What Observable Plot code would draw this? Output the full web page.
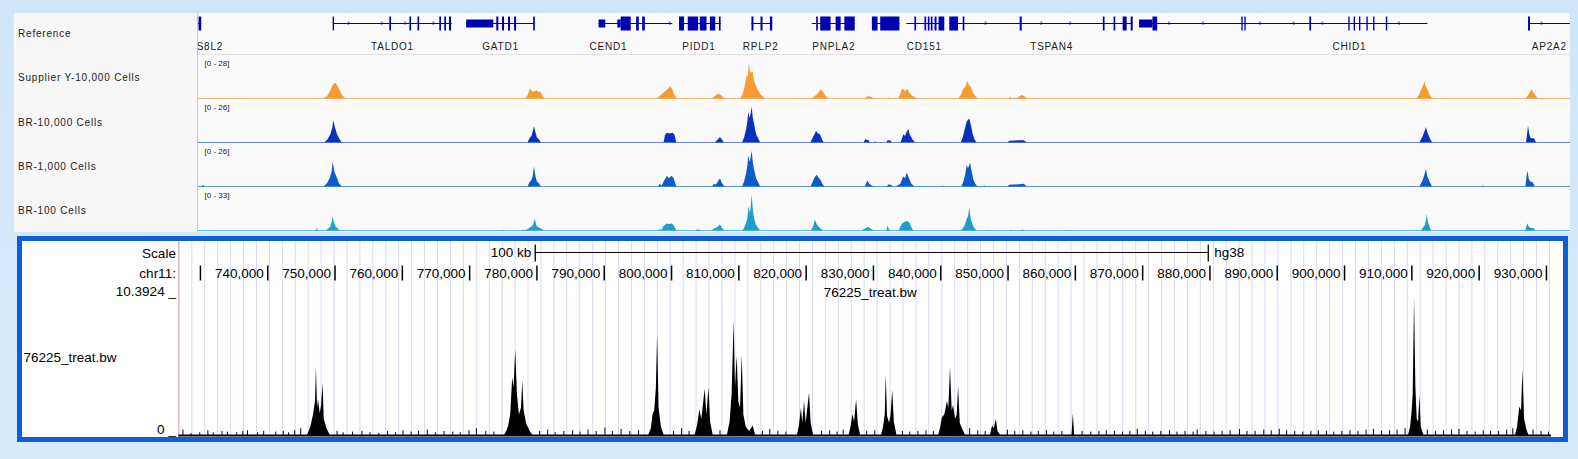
<!DOCTYPE html>
<html><head><meta charset="utf-8">
<script src="https://cdn.jsdelivr.net/npm/d3@7"></script>
<script src="https://cdn.jsdelivr.net/npm/@observablehq/plot@0.6"></script>
<style>
html,body{margin:0;padding:0;}
body{width:1578px;height:459px;overflow:hidden;background:#d0e6fa;font-family:"Liberation Sans",Arial,sans-serif;}
#root{position:relative;width:1578px;height:459px;background:linear-gradient(#cfe5fa,#d8ebfc);}
.box{position:absolute;}
.lab{position:absolute;left:4px;font-size:10px;letter-spacing:0.8px;color:#1a1a1a;white-space:nowrap;transform:translateY(-50%);}
</style></head>
<body><div id="root"></div>
<script>
// ---------------- data ----------------
const chrom = "chr11";
const assembly = "hg38";
const topDomain = [727.27, 931.86];   // kb shown in the IGV panel
const botDomain = [726.8, 930.75];    // kb shown in the UCSC panel

const trackNames = ["Supplier Y-10,000 Cells", "BR-10,000 Cells", "BR-1,000 Cells", "BR-100 Cells"];
const trackMax = [28, 26, 26, 33];
const trackColors = ["#f79c35", "#0a30be", "#0b5cc8", "#1d9fcc"];
const trackBaseColors = ["#f7a043", "#3562d4", "#2a6fd2", "#2aa8d6"];

const supplierY10k = [[745.9,0],[746.5,1.5],[747.0,5],[747.3,8.5],[747.7,10.2],[748.0,9],[748.4,5],[748.9,1.5],[749.3,0],
 [776.0,0],[776.4,2],[776.7,5.5],[776.85,6.5],[777.1,4.5],[777.5,4.8],[777.8,5.4],[778.1,4],[778.3,4.8],[778.6,2],[779.0,0],
 [795.6,0],[796.0,1.2],[796.5,3.3],[797.0,5],[797.5,7],[797.7,8.0],[798.0,6],[798.3,2.5],[798.7,0],
 [803.8,0],[804.3,1.5],[804.85,3.3],[805.3,2],[805.8,0],
 [808.1,0],[808.4,2],[808.7,6],[808.95,12],[809.1,15.2],[809.25,14],[809.4,23.2],[809.55,18],[809.7,17],[809.98,17.4],[810.2,11],[810.5,8],[810.8,5],[811.2,2.5],[811.6,1],[811.9,0],
 [818.7,0],[819.2,1.5],[819.6,3],[819.9,4.5],[820.17,5.9],[820.5,4],[820.9,1.5],[821.3,0],
 [826.6,0],[827.0,1.2],[827.33,1.5],[827.7,1.0],[828.1,0],
 [830.0,0],[830.2,0.8],[830.4,0],
 [831.6,0],[831.9,2],[832.15,5],[832.35,6.5],[832.7,4.8],[833.03,6.5],[833.3,4],[833.7,2],[834.2,0.8],[834.5,0],
 [840.6,0],[840.9,1.5],[841.2,4],[841.4,6.5],[841.7,8],[842.04,11.5],[842.2,9],[842.5,7.6],[842.8,4],[843.2,1.5],[843.6,0],
 [848.1,0],[848.35,1.1],[848.6,0.3],[849.4,0.5],[849.8,1.5],[850.1,2.2],[850.5,1.5],[850.9,0],
 [908.9,0],[909.3,2],[909.7,6],[910.0,9],[910.13,11.2],[910.35,8],[910.7,5],[911.0,2],[911.4,0],
 [925.2,0],[925.6,2],[925.9,4.5],[926.1,6],[926.4,4],[926.8,1.5],[927.1,0]];

const br10k = [[746.1,0],[746.6,2],[747.0,5],[747.3,9],[747.44,13.5],[747.7,9],[748.0,5],[748.4,2],[748.7,0],
 [776.4,0],[776.7,2.5],[777.0,4],[777.2,7],[777.37,9.9],[777.6,6],[777.8,3],[778.1,2],[778.4,0],
 [796.7,0],[796.9,4.5],[797.2,5.9],[797.6,5.5],[798.0,5.9],[798.3,5],[798.6,0],
 [804.3,0],[804.7,1.5],[805.1,3.4],[805.4,1.8],[805.7,0],
 [808.4,0],[808.7,3],[809.0,8],[809.2,13],[809.33,18.6],[809.5,15],[809.65,17],[809.83,21.6],[810.0,15],[810.2,11],[810.5,5],[810.8,2.5],[811.1,0],
 [818.6,0],[818.9,2.5],[819.2,5],[819.42,7.1],[819.7,5.5],[820.0,5.1],[820.3,2],[820.6,0],
 [826.5,0],[826.8,2],[827.2,1.5],[827.5,0],[828.1,0],[828.25,0.8],[828.4,0],
 [829.9,0],[830.1,1.4],[830.5,1.2],[830.8,0],
 [832.0,0],[832.3,3],[832.45,5],[832.7,4],[832.9,6],[833.18,8.1],[833.4,5],[833.8,2],[834.2,0],
 [841.0,0],[841.3,3],[841.6,8],[841.9,12.7],[842.28,14.5],[842.5,11],[842.8,5],[843.1,1.5],[843.4,0],
 [848.0,0],[848.2,1],[849.0,1.2],[849.6,1.4],[850.4,1.4],[850.9,0],
 [909.4,0],[909.8,3],[910.1,6],[910.38,9.3],[910.6,6],[910.9,3],[911.3,0],
 [925.3,0],[925.45,5],[925.6,10.2],[925.8,5],[926.0,2.5],[926.5,2.5],[926.8,0]];

const br1k = [[727.8,0],[728.0,1.0],[728.2,0],
 [746.0,0],[746.5,2],[746.9,5],[747.2,9],[747.35,15.1],[747.6,9],[747.9,6],[748.3,2],[748.7,0],
 [776.4,0],[776.7,2.5],[777.0,4],[777.2,7],[777.37,12.1],[777.6,6],[777.8,3],[778.1,2],[778.4,0],
 [795.9,0],[796.1,1.6],[796.4,0.5],[796.7,3],[797.0,5],[797.16,6.5],[797.5,5],[797.9,6.5],[798.2,5],[798.6,0],
 [803.9,0],[804.2,1.5],[804.5,1.2],[804.8,3],[805.1,5.0],[805.4,2],[805.8,0],
 [808.4,0],[808.7,3],[809.0,8],[809.2,13],[809.33,19],[809.5,15],[809.65,17],[809.83,21.6],[810.0,15],[810.2,10],[810.5,5],[810.8,2.5],[811.1,0],
 [818.6,0],[818.9,2.5],[819.2,5.5],[819.52,7.1],[819.8,5.5],[820.1,4],[820.4,1.5],[820.7,0],
 [826.7,0],[826.9,2],[827.08,3.6],[827.4,1.5],[827.8,0.5],[828.1,0],
 [830.0,0],[830.2,1.2],[830.6,1.0],[830.9,0],
 [831.3,0],[831.6,0.8],[832.0,1.5],[832.2,4],[832.45,6.1],[832.7,5],[832.95,8.5],[833.2,6],[833.6,2],[834.1,0],
 [838.2,0],[838.3,0.8],[838.4,0],
 [841.1,0],[841.4,3],[841.7,8],[841.9,13],[842.1,11],[842.39,14.5],[842.6,10],[842.9,4],[843.2,1.5],[843.5,0],
 [844.5,0],[844.6,0.8],[844.7,0],
 [848.0,0],[848.2,1],[849.0,1.2],[849.6,1.4],[850.4,1.6],[850.9,0],
 [909.4,0],[909.8,3],[910.1,6.5],[910.38,10.4],[910.6,6],[910.9,3],[911.3,0],
 [918.8,0],[918.9,0.9],[919.0,0],
 [925.2,0],[925.35,5],[925.5,9.7],[925.7,5],[925.9,3],[926.3,2.5],[926.6,0]];

const br100 = [[744.8,0],[744.97,2.0],[745.15,0],
 [746.3,0],[746.7,1.5],[747.0,3],[747.2,6],[747.35,11],[747.55,6],[747.8,3],[748.2,1],[748.5,0],
 [772.7,0],[772.8,0.8],[772.9,0],
 [775.6,0],[775.8,0.7],[776.0,0.3],[776.4,1],[776.8,2.5],[777.2,4],[777.5,9.0],[777.7,4],[778.0,2.5],[778.4,1.5],[778.9,0],
 [795.9,0],[796.1,1],[796.4,0.5],[796.7,3.5],[797.16,5.4],[797.5,5],[797.9,5.4],[798.2,4],[798.6,0],
 [801.4,0],[801.6,0.8],[802.0,0.8],[802.2,0],
 [803.9,0],[804.2,1.5],[804.5,2],[804.8,3],[805.1,4.6],[805.4,2],[805.8,0],
 [808.4,0],[808.7,2],[809.0,6],[809.2,10],[809.33,18.7],[809.5,14],[809.65,16],[809.83,27.6],[810.0,16],[810.2,9],[810.5,4],[810.8,2],[811.1,0],
 [818.6,0],[818.9,2],[819.1,5],[819.27,8.4],[819.5,5],[819.8,3],[820.1,1.5],[820.5,0],
 [826.2,0],[826.5,1],[826.9,2],[827.18,2.8],[827.5,1.5],[827.9,0.5],[828.2,0],
 [829.9,0],[830.1,3.8],[830.3,1],[830.5,0],
 [831.8,0],[832.0,3],[832.3,5.5],[832.6,6.5],[832.95,7.2],[833.3,6.5],[833.6,3],[833.9,0],
 [841.0,0],[841.3,1.5],[841.6,4],[841.9,9],[842.1,11],[842.28,17.4],[842.5,9],[842.8,4],[843.1,1.5],[843.4,0],
 [845.0,0],[845.1,0.8],[845.2,0],
 [848.3,0],[848.5,0.8],[848.7,0],[849.9,0],[850.2,1],[850.5,0],
 [857.2,0],[857.3,0.8],[857.4,0],
 [909.6,0],[909.9,2],[910.2,4],[910.4,8],[910.5,12.6],[910.65,7],[910.9,3],[911.2,0],
 [925.2,0],[925.35,3],[925.5,5.5],[925.7,3],[926.0,2],[926.4,2],[926.7,0]];

const trackData = [supplierY10k, br10k, br1k, br100];

// genes: [name, start kb, end kb, strand, label centre kb]
const geneSpans = [
 ["EPS8L2", 715.0, 727.75, 1, 727.86],
 ["TALDO1", 747.44, 765.1, 1, 756.2],
 ["GATD1", 767.26, 777.44, -1, 772.3],
 ["CEND1", 787.0, 798.0, -1, 788.4],
 ["PIDD1", 799.0, 805.2, -1, 801.9],
 ["RPLP2", 809.8, 812.9, 1, 811.1],
 ["PNPLA2", 818.8, 825.2, 1, 822.0],
 ["", 827.76, 831.86, -1, null],
 ["CD151", 832.9, 838.55, 1, 835.5],
 ["TSPAN4", 839.3, 866.6, 1, 854.5],
 ["CHID1", 867.6, 910.6, -1, 898.9],
 ["AP2A2", 925.7, 945.0, 1, 928.7]];
// exons: [start kb, end kb, coding(1) / utr(0)]
const exons = [
 [727.35,727.75,1],
 [747.35,747.55,1],[755.8,756.05,1],[758.8,759.05,1],[760.0,760.25,1],[763.25,763.5,1],[764.0,764.25,1],[764.7,765.0,1],
 [767.26,771.3,0],[771.75,772.05,1],[772.6,772.9,1],[773.5,773.8,1],[774.4,774.7,1],[777.25,777.5,1],
 [787.0,788.0,0],[789.8,790.3,0],[790.3,791.8,1],[792.6,793.0,1],[793.5,793.9,1],
 [799.0,799.75,1],[800.3,801.85,1],[802.1,803.1,1],[803.6,804.4,1],[804.95,805.2,1],
 [809.8,810.1,1],[811.15,811.45,1],[812.55,812.9,1],
 [819.45,819.7,1],[820.05,821.6,1],[822.35,823.1,1],[823.65,825.2,1],
 [827.76,828.6,1],[829.0,831.86,1],
 [834.1,834.35,1],[835.6,835.85,1],[836.1,836.35,1],[836.55,836.8,1],[837.1,837.4,1],[837.7,838.55,1],
 [839.3,840.6,1],[841.3,841.55,1],[849.8,850.1,1],[862.2,862.45,1],[863.8,864.05,1],[865.15,865.75,1],[866.35,866.65,1],
 [867.6,869.6,0],[869.6,870.3,1],[882.85,883.05,1],[883.3,883.5,1],[893.0,893.25,1],[898.8,899.0,1],[899.6,899.8,1],[900.4,900.6,1],[901.5,901.7,1],[902.5,902.7,1],[904.4,904.6,1],
 [925.6,925.9,1]];
const geneArrows = [[749.7,1],[754.66,1],[758.13,1],[762.35,1],[797.6,-1],[844.7,1],[853.0,1],[857.3,1],
 [872.0,-1],[877.1,-1],[885.6,-1],[890.6,-1],[894.9,-1],[906.3,-1],[927.6,1]];

// UCSC bigWig 76225_treat.bw
const bwName = "76225_treat.bw";
const bwMax = 10.3924;
const bwPeaks = [[745.9,0],[746.4,0.6],[746.8,1.5],[747.1,2.5],[747.24,5.0],[747.4,2.0],[747.54,2.65],[747.8,1.6],[748.0,2.2],[748.22,3.8],[748.4,1.2],[748.8,0.5],[749.3,0],
 [775.2,0],[775.6,0.4],[775.8,0.7],[776.1,1.5],[776.4,4.25],[776.6,3.5],[776.85,6.3],[777.1,3],[777.4,1.5],[777.7,2.0],[777.9,4.0],[778.1,1.8],[778.5,0.8],[779.0,0.3],[779.4,0],
 [796.6,0],[797.0,0.5],[797.25,1.55],[797.5,1.8],[797.75,3.5],[797.93,7.4],[798.15,2.0],[798.5,0.6],[798.9,0],
 [803.5,0],[803.9,0.8],[804.2,1.9],[804.5,1.2],[805.0,3.4],[805.25,1.5],[805.56,3.5],[805.8,1.0],[806.2,0],
 [808.3,0],[808.7,1.0],[809.0,3.0],[809.3,8.4],[809.5,3.5],[809.75,5.85],[810.0,2.5],[810.25,2.0],[810.5,5.9],[810.75,1.5],[811.1,0.6],[811.6,0.3],[812.14,0.7],[812.5,0],
 [818.7,0],[819.0,0.7],[819.3,2.0],[819.5,0.9],[819.76,2.5],[820.0,0.9],[820.5,3.1],[820.75,0.9],[821.1,0],
 [826.4,0],[826.7,0.7],[826.94,1.55],[827.2,1.0],[827.5,2.65],[827.75,0.8],[828.1,0],
 [831.2,0],[831.5,0.6],[831.75,1.5],[831.9,4.4],[832.1,1.4],[832.4,0.9],[832.6,1.4],[832.87,3.3],[833.1,1.0],[833.5,0],
 [839.7,0],[840.0,0.6],[840.25,1.3],[840.6,1.5],[841.0,2.5],[841.2,2.0],[841.45,5.0],[841.7,1.8],[841.9,2.2],[842.2,1.2],[842.45,1.5],[842.65,3.6],[842.9,0.9],[843.3,0.4],[843.7,0],
 [847.4,0],[847.7,0.7],[847.95,0.5],[848.26,1.2],[848.5,0.3],[848.9,0],
 [859.5,0],[859.7,1.6],[859.9,0],
 [909.5,0],[909.8,0.6],[910.0,1.5],[910.2,3.0],[910.4,10.1],[910.6,3.5],[910.8,1.2],[911.0,1.0],[911.2,2.9],[911.4,0.6],[911.8,0],
 [925.4,0],[925.7,0.6],[926.05,2.1],[926.3,1.8],[926.5,4.85],[926.75,1.2],[927.1,0.4],[927.4,0]];
const bwNoise = [[727.4,0.4],[728.6,0.15],[729.9,0.2],[731.1,0.35],[731.9,0.2],[733.2,0.3],[734.0,0.25],[735.4,0.2],[736.3,0.3],[737.0,0.35],[738.5,0.2],[739.4,0.3],
 [741.2,0.25],[742.3,0.3],[743.1,0.2],[744.0,0.35],[744.9,0.5],[750.3,0.3],[751.2,0.2],[752.6,0.25],[754.0,0.3],[755.2,0.2],[756.5,0.15],[757.8,0.3],[759.0,0.2],
 [760.1,0.35],[761.3,0.25],[762.4,0.3],[763.7,0.4],[764.9,0.2],[766.2,0.3],[767.5,0.25],[768.6,0.2],[769.9,0.35],[771.0,0.5],[772.4,0.3],[773.6,0.25],
 [780.4,0.3],[781.6,0.4],[782.7,0.2],[784.0,0.3],[785.3,0.35],[786.4,0.25],[787.6,0.4],[788.8,0.3],[790.1,0.55],[791.2,0.3],[792.5,0.45],[793.8,0.3],[795.1,0.35],
 [800.3,0.3],[801.5,0.5],[802.6,0.3],[807.2,0.35],[813.5,0.3],[814.6,0.45],[815.8,0.3],[817.0,0.25],[822.3,0.3],[823.5,0.35],[824.6,0.25],[825.5,0.4],
 [829.0,0.3],[830.2,0.35],[834.3,0.3],[835.4,0.25],[836.6,0.3],[837.8,0.35],[838.9,0.3],[844.3,0.5],[845.5,0.35],[846.6,0.3],[849.9,0.4],[851.0,0.3],
 [852.2,0.35],[853.4,0.25],[854.5,0.3],[855.7,0.35],[856.8,0.25],[858.0,0.3],[861.0,0.3],[862.3,0.25],[863.5,0.3],[864.6,0.35],[865.8,0.3],[867.0,0.25],
 [868.1,0.3],[869.2,0.45],[870.4,0.3],[871.5,0.25],[872.7,0.3],[874.0,0.35],[875.1,0.25],[876.3,0.3],[877.5,0.25],[878.1,0.4],[879.4,0.3],[880.6,0.25],
 [881.8,0.3],[883.0,0.35],[884.4,0.45],[885.5,0.3],[886.7,0.3],[888.0,0.4],[889.1,0.35],[890.3,0.45],[891.4,0.35],[892.6,0.3],[893.8,0.25],[895.0,0.3],
 [896.1,0.35],[897.3,0.3],[898.4,0.25],[899.6,0.3],[900.8,0.35],[902.0,0.3],[903.2,0.4],[904.3,0.45],[905.5,0.3],[906.7,0.35],[907.8,0.4],[909.0,0.5],
 [912.3,0.4],[913.5,0.3],[914.7,0.35],[915.9,0.4],[917.0,0.45],[918.2,0.3],[919.4,0.25],[920.6,0.35],[921.7,0.3],[922.9,0.3],[924.1,0.4],[925.0,0.5],
 [928.0,0.4],[929.2,0.3],[930.3,0.25]];

const rulerTicks = [730,740,750,760,770,780,790,800,810,820,830,840,850,860,870,880,890,900,910,920,930];
const rulerLabels = ["","740,000","750,000","760,000","770,000","780,000","790,000","800,000","810,000","820,000","830,000","840,000","850,000","860,000","870,000","880,000","890,000","900,000","910,000","920,000","930,000"];
const scaleBar = {start: 779.75, len: 100, label: "100 kb"};

// ---------------- layout ----------------
const root = document.getElementById("root");
function box(left, top, w, h, css) {
  const d = document.createElement("div");
  d.className = "box";
  Object.assign(d.style, {left: left + "px", top: top + "px", width: w + "px", height: h + "px"}, css || {});
  root.append(d); return d;
}
function place(el, left, top) {
  const d = document.createElement("div");
  d.className = "box";
  d.style.left = left + "px"; d.style.top = top + "px"; d.style.lineHeight = "0";
  d.append(el); root.append(d); return d;
}

// IGV panel
box(14, 13, 1556, 219, {background: "#fafafa"});
box(14, 13, 184, 219, {background: "#f7f7f7", borderRight: "1px solid #c9c9c9", boxSizing: "border-box"});
box(198, 54, 1372, 1, {background: "#e2e2e2"});
const labelY = [32.5, 77, 121.5, 165.7, 210];
["Reference", ...trackNames].forEach((t, i) => {
  const d = document.createElement("div"); d.className = "lab"; d.textContent = t;
  d.style.top = labelY[i] + "px"; d.style.left = "18px"; root.append(d);
});

const navy = "rgb(0,0,178)";
const TW = 1372;
const GH = 41.5, lineY = 10.5;
const geneSvg = Plot.plot({
  width: TW, height: GH, margin: 0,
  x: {domain: topDomain, range: [0, TW], axis: null},
  style: "font-family:'Liberation Sans',Arial,sans-serif;font-size:10px;letter-spacing:0.8px;background:transparent;overflow:hidden;",
  marks: [
    Plot.rect(geneSpans, {x1: d => d[1], x2: d => d[2], insetTop: lineY - 0.5, insetBottom: GH - lineY - 0.5, fill: navy, clip: true}),
    Plot.rect(exons.filter(e => e[2] === 1), {x1: d => d[0], x2: d => d[1], insetTop: 3.5, insetBottom: GH - 17.5, fill: navy, clip: true}),
    Plot.rect(exons.filter(e => e[2] === 0), {x1: d => d[0], x2: d => d[1], insetTop: 6.5, insetBottom: GH - 14.5, fill: navy, clip: true}),
    Plot.text(geneArrows, {x: d => d[0], text: d => d[1] > 0 ? "›" : "‹", frameAnchor: "top", lineAnchor: "middle", dy: lineY - 0.5, fontSize: 9, fill: navy, clip: true}),
    Plot.text(geneSpans.filter(g => g[0]), {x: d => d[4], text: d => d[0], frameAnchor: "top", lineAnchor: "middle", dy: 33.5, fill: "#1a1a1a", fontSize: 10, clip: true})
  ]
});
place(geneSvg, 198, 13);

const trackTop = [54.8, 99.0, 143.2, 187.4];
trackData.forEach((data, i) => {
  const svg = Plot.plot({
    width: TW, height: 44, margin: 0,
    x: {domain: topDomain, range: [0, TW], axis: null},
    y: {domain: [0, trackMax[i]], range: [43.5, 0.5], axis: null},
    style: "font-family:'Liberation Sans',Arial,sans-serif;background:transparent;overflow:hidden;",
    marks: [
      Plot.areaY(data, {x: d => d[0], y: d => d[1], fill: trackColors[i], curve: "linear", clip: true}),
      Plot.ruleY([0], {stroke: trackBaseColors[i], strokeWidth: 1.5}),
      Plot.text([`[0 - ${trackMax[i]}]`], {frameAnchor: "top-left", lineAnchor: "middle", dx: 6, dy: 8, fontSize: 8, fill: "#222"})
    ]
  });
  place(svg, 198, trackTop[i]);
});

// UCSC panel
box(17, 235.5, 1541, 196, {border: "5px solid #0c5fd6", background: "#ffffff"});
const BW = 1541, BH = 196, ML = 156.4, MR = 12;
const pxPerKb = (BW - ML - MR) / (botDomain[1] - botDomain[0]);
const gridKb = d3.range(botDomain[0], botDomain[1] + 0.01, 12.93 / pxPerKb);
const fontCss = "font-family:'Liberation Sans',Arial,sans-serif;font-size:13.5px;background:transparent;overflow:visible;";
const T = {frameAnchor: "top", lineAnchor: "middle", fill: "black"};
const bwSvg = Plot.plot({
  width: BW, height: BH, marginLeft: ML, marginRight: MR, marginTop: 0, marginBottom: 0,
  x: {domain: botDomain, axis: null},
  y: {domain: [0, bwMax], range: [194, 52.5], axis: null},
  style: fontCss,
  marks: [
    Plot.ruleX(gridKb, {x: d => d, stroke: "#d9d9f5", strokeWidth: 1}),
    Plot.ruleX([botDomain[0]], {x: d => d, stroke: "#f2a0a0", strokeWidth: 1}),
    Plot.areaY(bwPeaks, {x: d => d[0], y: d => d[1], fill: "black", curve: "linear", clip: true}),
    Plot.ruleX(bwNoise, {x: d => d[0], y: d => d[1], stroke: "black", strokeWidth: 1}),
    Plot.ruleY([0], {stroke: "black", strokeWidth: 2}),
    // ruler
    Plot.ruleX(rulerTicks, {x: d => d, insetTop: 24.5, insetBottom: BH - 39.5, stroke: "black", strokeWidth: 1.5}),
    Plot.text(rulerTicks.map((t, i) => ({t, s: rulerLabels[i]})), {...T, x: "t", text: "s", dy: 32, dx: -4, textAnchor: "end"}),
    Plot.rect([scaleBar], {x1: d => d.start, x2: d => d.start + d.len, insetTop: 11, insetBottom: BH - 12, fill: "black"}),
    Plot.ruleX([scaleBar.start, scaleBar.start + scaleBar.len], {x: d => d, insetTop: 3.5, insetBottom: BH - 20.5, stroke: "black", strokeWidth: 1.3}),
    Plot.text([scaleBar], {...T, x: d => d.start, text: d => d.label, dy: 11, dx: -4, textAnchor: "end"}),
    Plot.text([assembly], {...T, x: () => scaleBar.start + scaleBar.len, text: d => d, dy: 11, dx: 6, textAnchor: "start"}),
    // left labels
    Plot.text(["Scale"], {...T, frameAnchor: "top-left", dx: -3, dy: 12.3, textAnchor: "end"}),
    Plot.text([chrom + ":"], {...T, frameAnchor: "top-left", dx: -3, dy: 32.3, textAnchor: "end"}),
    Plot.text([bwMax], {y: d => d, text: d => d + " _", frameAnchor: "left", lineAnchor: "middle", dx: -3, dy: -2.5, textAnchor: "end", fill: "black"}),
    Plot.text([0], {y: d => d, text: d => d + " _", frameAnchor: "left", lineAnchor: "middle", dx: -3, dy: -6, textAnchor: "end", fill: "black"}),
    Plot.text([bwName], {...T, frameAnchor: "top-left", dx: -ML + 1, dy: 116.5, textAnchor: "start"}),
    Plot.text([bwName], {...T, dx: 5, dy: 51.2})
  ]
});
place(bwSvg, 22, 240.5);
</script></body></html>
